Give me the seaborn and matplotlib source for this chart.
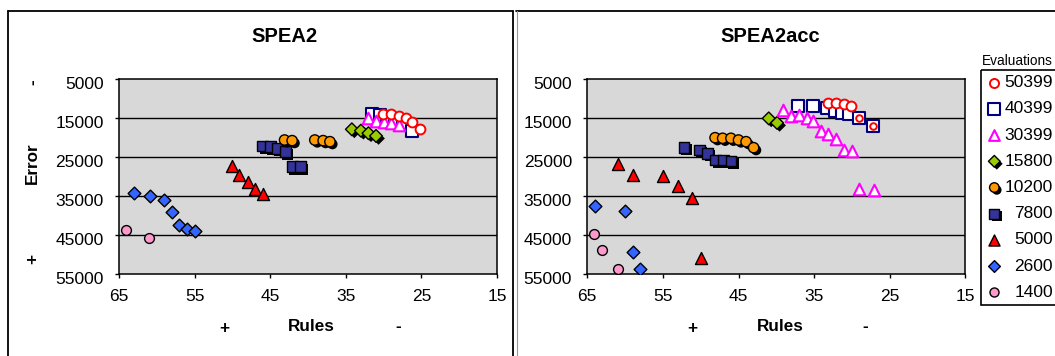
import matplotlib
matplotlib.use("Agg")
import numpy as np
import pandas as pd
import seaborn as sns
import matplotlib.pyplot as plt
from matplotlib.lines import Line2D
from matplotlib.patches import Rectangle
import matplotlib.patheffects as pe
from matplotlib.transforms import ScaledTranslation

sns.set_theme(style="white")
plt.rcParams["font.family"] = ["Liberation Sans", "DejaVu Sans"]
plt.rcParams["text.color"] = "black"
plt.rcParams["axes.labelcolor"] = "black"
plt.rcParams["xtick.color"] = "black"
plt.rcParams["ytick.color"] = "black"

# ---------------- data ----------------
evaluations = ["50399", "40399", "30399", "15800", "10200", "7800", "5000", "2600", "1400"]
x_ticks = [65, 55, 45, 35, 25, 15]
y_ticks = [5000, 15000, 25000, 35000, 45000, 55000]

# SPEA2
spea2_rules = {
    "1400": [64.1, 61.0],
    "2600": [63.0, 60.9, 59.1, 58.0, 57.0, 56.0, 54.9],
    "5000": [50.1, 49.1, 48.0, 47.0, 45.9],
    "7800": [46.0, 45.0, 44.1, 43.0, 42.1, 41.0],
    "10200": [43.1, 42.1, 39.1, 38.0, 37.1],
    "15800": [34.2, 33.0, 32.0, 31.0],
    "40399": [31.5, 30.5, 29.5, 28.5, 27.4, 26.3],
    "30399": [32.0, 31.0, 30.0, 29.0, 28.0],
    "50399": [30.1, 29.0, 28.0, 27.1, 26.2, 25.2],
}
spea2_error = {
    "1400": [43700, 45700],
    "2600": [34350, 34900, 36060, 39000, 42540, 43570, 44080],
    "5000": [27200, 29570, 31450, 33240, 34440],
    "7800": [22180, 22350, 22770, 23640, 27480, 27480],
    "10200": [20640, 20800, 20640, 20800, 21070],
    "15800": [17900, 18250, 18900, 19600],
    "40399": [14050, 14300, 14800, 15500, 16600, 18300],
    "30399": [15080, 15690, 15950, 16360, 16800],
    "50399": [13970, 13970, 14450, 15100, 15950, 17900],
}

# SPEA2acc
spea2acc_rules = {
    "1400": [64.1, 63.1, 61.0],
    "2600": [64.0, 60.0, 59.0, 58.0],
    "5000": [61.0, 59.0, 55.0, 53.0, 51.1, 50.0],
    "7800": [52.2, 50.2, 49.1, 48.0, 47.0, 46.0],
    "10200": [48.1, 47.1, 46.0, 45.0, 44.0, 43.0],
    "15800": [41.0, 39.9],
    "40399": [37.1, 35.1, 33.3, 32.2, 31.3, 30.4, 29.1, 27.2],
    "30399": [39.1, 38.0, 37.0, 36.0, 35.1, 34.1, 33.1, 32.1, 31.1, 30.0, 29.0, 27.1],
    "50399": [33.1, 32.1, 31.1, 30.1, 29.1, 27.2],
}
spea2acc_error = {
    "1400": [44820, 48770, 53790],
    "2600": [37480, 38770, 49440, 53720],
    "5000": [26900, 29640, 29950, 32550, 35500, 51000],
    "7800": [22510, 23200, 24050, 25770, 25770, 26020],
    "10200": [20050, 20200, 20200, 20640, 21070, 22610],
    "15800": [15100, 16250],
    "40399": [11920, 11920, 12510, 13130, 13640, 13950, 15080, 17050],
    "30399": [12950, 14490, 14230, 15080, 15770, 18330, 19180, 20460, 23200, 23460, 33160, 33580],
    "50399": [11070, 11070, 11410, 11920, 15080, 17050],
}
# the last two 50399 points of SPEA2acc are drawn with smaller circles
spea2acc_small_50399 = [False, False, False, False, True, True]

# ---------------- styles ----------------
styles = {
    "50399": dict(marker="o", face="white", edge="#FF0000", s=50, lw=1.4, shadow=False),
    "40399": dict(marker="s", face="white", edge="#000080", s=75, lw=1.5, shadow=False),
    "30399": dict(marker="^", face="white", edge="#FF00FF", s=70, lw=1.5, shadow=False),
    "15800": dict(marker="D", face="#99CC00", edge="black", s=42, lw=1.0, shadow=True),
    "10200": dict(marker="o", face="#FF9900", edge="black", s=55, lw=1.0, shadow=True),
    "7800": dict(marker="s", face="#333399", edge="black", s=60, lw=1.0, shadow=True),
    "5000": dict(marker="^", face="#FF0000", edge="black", s=75, lw=1.0, shadow=False),
    "2600": dict(marker="D", face="#3366FF", edge="black", s=42, lw=1.0, shadow=False),
    "1400": dict(marker="o", face="#FF99CC", edge="black", s=50, lw=1.0, shadow=False),
}
draw_order = ["1400", "2600", "5000", "7800", "10200", "15800", "40399", "30399", "50399"]

W, H = 1055, 356
fig = plt.figure(figsize=(W / 100, H / 100), dpi=100)
fig.patch.set_facecolor("white")


def px_axes(x0, y0, x1, y1):
    return [x0 / W, 1 - y1 / H, (x1 - x0) / W, (y1 - y0) / H]


shadow_fx = [pe.SimplePatchShadow(offset=(1.8, -1.8), shadow_rgbFace="black", alpha=1.0), pe.Normal()]


def draw_panel(ax, rules, errors, small=None):
    for key in draw_order:
        st = styles[key]
        df = pd.DataFrame({"rules": rules[key], "error": errors[key]})
        if key == "50399" and small is not None:
            df["small"] = small
            parts = [(df[~df["small"]], st["s"]), (df[df["small"]], st["s"] * 0.45)]
        else:
            parts = [(df, st["s"])]
        for sub, size in parts:
            if len(sub) == 0:
                continue
            sns.scatterplot(data=sub, x="rules", y="error", ax=ax, marker=st["marker"],
                            s=size, color=st["face"], edgecolor=st["edge"],
                            linewidth=st["lw"], legend=False, zorder=3)
            if st["shadow"]:
                ax.collections[-1].set_path_effects(shadow_fx)
    ax.set_facecolor("#D8D8D8")
    ax.set_xlim(65, 15)
    ax.set_ylim(55000, 5000)
    ax.set_xticks(x_ticks)
    ax.set_yticks(y_ticks)
    ax.set_xticklabels([str(v) for v in x_ticks])
    ax.set_yticklabels([str(v) for v in y_ticks])
    ax.set_xlabel("")
    ax.set_ylabel("")
    ax.grid(False)
    for yv in y_ticks[1:-1]:
        ax.axhline(yv, color="black", lw=1.0, zorder=1)
    for sp in ax.spines.values():
        sp.set_color("black")
        sp.set_linewidth(1.1)
        sp.set_visible(True)
    ax.tick_params(axis="both", which="major", direction="out", length=3, width=1.0,
                   color="black", labelsize=12.5, labelcolor="black")
    ax.tick_params(axis="x", pad=7.5, bottom=True, top=False)
    ax.tick_params(axis="y", pad=8, left=True, right=False)
    off = ScaledTranslation(0, -3.0 / 72, fig.dpi_scale_trans)
    for lab in ax.get_yticklabels():
        lab.set_transform(lab.get_transform() + off)


ax1 = fig.add_axes(px_axes(119, 79, 497, 274))
draw_panel(ax1, spea2_rules, spea2_error)
ax2 = fig.add_axes(px_axes(587.3, 79, 965.3, 274))
draw_panel(ax2, spea2acc_rules, spea2acc_error, small=np.array(spea2acc_small_50399))


def ftext(x, y, s, **kw):
    fig.text(x / W, 1 - y / H, s, **kw)


# titles
ftext(284, 37, "SPEA2", fontsize=14.5, fontweight="bold", ha="center", va="center")
ftext(770, 36, "SPEA2acc", fontsize=14.5, fontweight="bold", ha="center", va="center")

# x labels
for cx, rx, mx in [(224, 311.7, 397.7), (692.3, 780.2, 865.5)]:
    ftext(cx, 328, "+", fontsize=12.3, fontweight="bold", ha="center", va="center")
    ftext(rx, 326.5, "Rules", fontsize=12.3, fontweight="bold", ha="center", va="center")
    ftext(mx, 327, "-", fontsize=12.3, fontweight="bold", ha="center", va="center")

# y label (left panel only)
ftext(32.5, 163, "Error", fontsize=12.3, fontweight="bold", ha="center", va="center", rotation=90)
ftext(33, 82, "-", fontsize=12.3, fontweight="bold", ha="center", va="center", rotation=90)
ftext(33, 259, "+", fontsize=12.3, fontweight="bold", ha="center", va="center", rotation=90)


# chart frames
def fline(xs, ys, **kw):
    fig.add_artist(Line2D([x / W for x in xs], [1 - y / H for y in ys],
                          transform=fig.transFigure, **kw))


fline([8, 8], [11, 360], color="black", lw=1.3)
fline([8, 513], [11, 11], color="black", lw=1.3)
fline([513, 513], [11, 360], color="black", lw=1.3)
fline([516, 1060], [11, 11], color="black", lw=1.3)
fline([516.5, 516.5], [11, 360], color="#999999", lw=0.8)

# legend
lx0, ly0, lx1, ly1 = 980.5, 69, 1060, 305
lax = fig.add_axes(px_axes(lx0, ly0, lx1, ly1))
lax.set_xlim(lx0, lx1)
lax.set_ylim(ly1, ly0)
lax.axis("off")
lax.add_patch(Rectangle((lx0 + 0.5, ly0 + 0.5), lx1 - lx0, ly1 - ly0 - 1, fill=False,
                        edgecolor="black", lw=1.2, clip_on=False))
ftext(981.5, 61, "Evaluations", fontsize=9.8, ha="left", va="center")
for i, key in enumerate(evaluations):
    st = styles[key]
    yy = 82.7 + i * 26.2
    sc = lax.scatter([994.3], [yy], marker=st["marker"], s=st["s"] * 0.85, c=st["face"],
                     edgecolors=st["edge"], linewidths=st["lw"], clip_on=False, zorder=3)
    if st["shadow"]:
        sc.set_path_effects(shadow_fx)
    lax.text(1053, yy, key, fontsize=12.5, ha="right", va="center", color="black")

fig.savefig("out.png", dpi=100, facecolor="white")
